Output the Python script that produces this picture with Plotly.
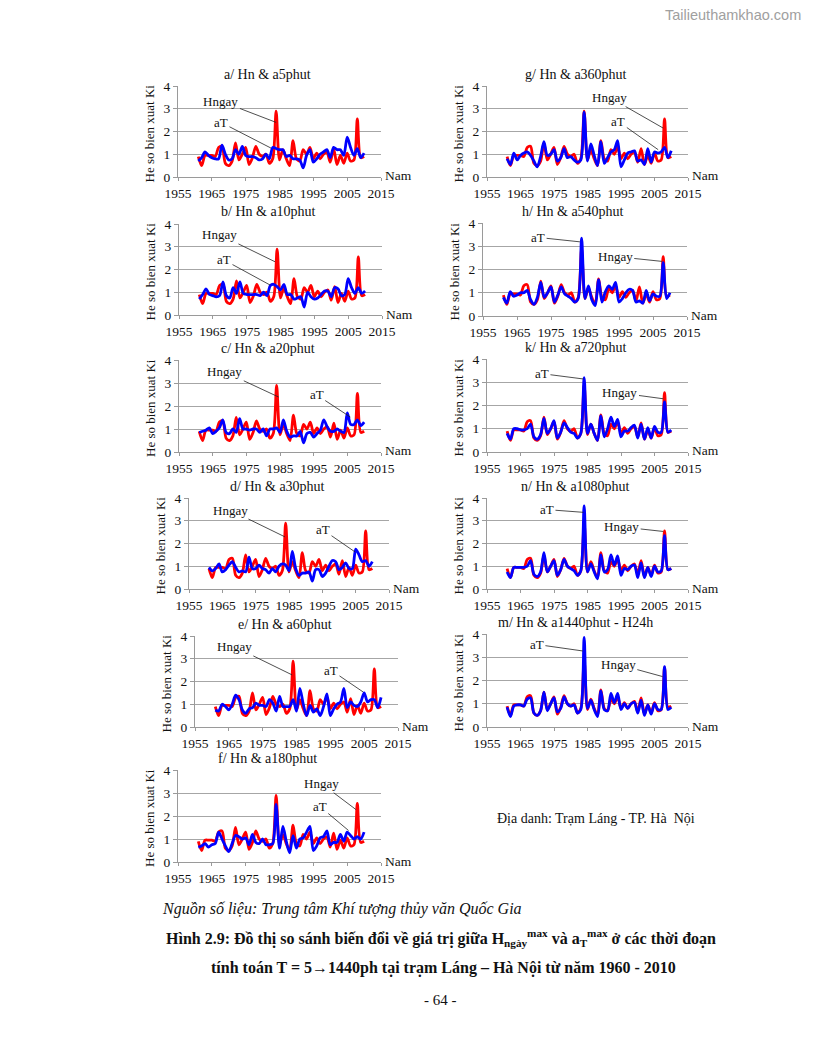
import plotly.graph_objects as go

# ---------------- data ----------------
years = list(range(1961, 2011))

hngay = [0.9, 0.5, 0.95, 0.95, 0.95, 0.9, 1.3, 1.35, 0.6, 0.5,
         0.7, 1.5, 0.75, 1.0, 1.3, 0.55, 0.85, 1.35, 1.0, 0.9,
         1.0, 0.6, 0.8, 2.9, 0.75, 1.2, 0.8, 0.5, 1.6, 0.8,
         0.7, 1.2, 1.0, 1.3, 0.8, 1.05, 0.8, 1.0, 1.1, 0.65,
         1.25, 0.55, 0.95, 0.6, 1.05, 0.7, 0.75, 2.55, 0.85, 0.9]

a5 = [0.7, 0.85, 1.1, 0.95, 0.85, 0.8, 0.8, 1.4, 1.0, 0.75,
      0.8, 1.2, 1.0, 1.35, 0.95, 0.9, 0.9, 0.85, 0.75, 0.8,
      1.0, 0.8, 1.3, 1.25, 1.2, 1.2, 0.9, 0.95, 0.8, 0.8,
      0.75, 0.4, 0.95, 1.2, 0.65, 0.8, 1.0, 1.1, 1.2, 0.85,
      1.3, 1.2, 1.2, 0.95, 1.75, 1.3, 0.95, 1.25, 0.85, 1.05]

a10 = [0.7, 0.9, 1.15, 0.9, 0.85, 0.8, 0.85, 1.45, 0.85, 0.75,
       1.2, 0.95, 1.45, 0.95, 0.9, 0.9, 0.9, 0.9, 0.85, 1.0,
       0.85, 1.3, 1.35, 1.25, 1.1, 1.35, 0.9, 0.9, 0.7, 0.75,
       0.8, 0.35, 1.0, 0.8, 0.7, 0.75, 0.9, 1.05, 1.05, 0.8,
       1.2, 1.15, 0.85, 0.9, 1.6, 1.2, 0.95, 1.2, 0.95, 1.05]

a20 = [0.85, 0.9, 0.95, 1.05, 0.8, 0.9, 1.05, 1.4, 0.85, 0.8,
       1.0, 0.85, 1.45, 1.0, 1.0, 0.95, 1.0, 1.0, 0.85, 1.0,
       0.7, 1.0, 1.0, 1.05, 0.85, 1.4, 0.9, 0.65, 0.7, 0.7,
       0.9, 0.4, 0.8, 0.85, 0.65, 0.8, 0.95, 1.4, 1.1, 0.9,
       0.9, 1.0, 0.9, 0.85, 1.7, 1.2, 1.2, 1.4, 1.15, 1.3]

a30 = [0.95, 0.8, 0.9, 1.1, 0.75, 0.85, 1.05, 1.2, 0.95, 0.75,
       0.8, 0.75, 1.4, 0.9, 0.9, 1.05, 0.9, 0.85, 0.7, 0.9,
       0.75, 1.0, 1.1, 1.05, 0.8, 1.65, 0.9, 0.6, 0.7, 0.7,
       0.75, 0.35, 0.85, 0.85, 0.55, 0.7, 1.0, 1.25, 1.2, 0.85,
       0.95, 1.15, 0.9, 0.9, 1.75, 1.5, 1.2, 1.25, 1.0, 1.2]

a60 = [0.75, 0.7, 1.0, 0.9, 0.75, 1.0, 1.4, 1.2, 0.75, 0.6,
       0.8, 0.85, 1.05, 0.95, 0.95, 0.9, 1.2, 1.05, 0.7, 1.35,
       0.9, 0.9, 0.9, 1.2, 0.7, 1.7, 1.0, 0.5, 0.95, 0.65,
       0.8, 0.5, 0.9, 1.45, 0.5, 0.8, 1.0, 1.1, 1.7, 0.85,
       1.1, 0.95, 0.9, 1.1, 1.5, 1.1, 1.2, 1.2, 0.85, 1.3]

a180 = [0.65, 0.7, 0.8, 0.65, 0.75, 0.8, 1.3, 1.0, 0.7, 0.45,
        0.8, 1.15, 1.1, 1.0, 1.05, 0.75, 1.2, 0.85, 0.8, 1.0,
        0.75, 0.75, 0.8, 2.5, 0.6, 1.55, 0.9, 0.4, 1.15, 0.6,
        1.0, 1.05, 1.3, 1.55, 0.5, 0.7, 1.05, 1.1, 1.35, 0.75,
        0.85, 0.85, 1.2, 0.9, 1.3, 1.15, 1.0, 1.1, 1.0, 1.3]

a360 = [0.8, 0.55, 1.05, 0.75, 0.95, 1.05, 1.1, 0.95, 0.7, 0.45,
        0.9, 1.55, 0.95, 1.0, 1.2, 0.7, 0.85, 1.25, 0.85, 0.9,
        0.75, 0.65, 0.75, 2.85, 0.7, 1.45, 0.95, 0.5, 1.55, 0.6,
        0.85, 1.1, 1.2, 1.6, 0.45, 0.75, 1.05, 1.1, 1.15, 0.7,
        0.75, 0.55, 1.25, 0.65, 1.1, 1.05, 1.1, 1.3, 0.85, 1.15]

a540 = [0.8, 0.55, 1.05, 0.85, 0.9, 1.0, 1.0, 1.1, 0.7, 0.5,
        0.8, 1.45, 0.8, 1.0, 1.25, 0.6, 0.9, 1.25, 0.95, 0.85,
        0.75, 0.6, 0.75, 3.35, 0.75, 1.3, 0.7, 0.45, 1.55, 0.6,
        1.05, 1.3, 1.15, 1.45, 0.6, 0.75, 1.0, 1.15, 1.1, 0.6,
        0.65, 0.55, 1.1, 0.65, 0.95, 0.85, 0.85, 2.3, 0.75, 1.0]

a720 = [0.8, 0.55, 1.0, 1.0, 0.95, 0.95, 1.0, 1.2, 0.65, 0.55,
        0.75, 1.45, 0.8, 1.0, 1.35, 0.6, 0.85, 1.25, 1.05, 0.85,
        0.8, 0.6, 0.8, 3.2, 0.8, 1.2, 0.8, 0.5, 1.55, 0.65,
        1.0, 1.5, 1.1, 1.4, 0.65, 0.9, 0.9, 1.05, 1.15, 0.6,
        1.2, 0.55, 1.05, 0.6, 1.1, 0.85, 0.85, 2.15, 0.85, 0.95]

a1080 = [0.75, 0.5, 0.95, 0.95, 0.95, 0.95, 1.0, 1.25, 0.65, 0.55,
         0.75, 1.6, 0.75, 1.0, 1.25, 0.6, 0.85, 1.3, 1.0, 0.9,
         0.8, 0.6, 0.8, 3.65, 0.75, 1.1, 0.75, 0.45, 1.5, 0.75,
         0.85, 1.5, 1.05, 1.45, 0.6, 0.9, 0.85, 1.0, 1.05, 0.5,
         1.15, 0.5, 0.95, 0.55, 1.0, 0.75, 0.8, 2.35, 0.85, 0.9]

a1440 = [0.85, 0.45, 0.9, 0.95, 0.95, 0.9, 1.2, 1.25, 0.6, 0.5,
         0.7, 1.5, 0.7, 1.0, 1.25, 0.65, 0.8, 1.3, 1.0, 0.9,
         0.95, 0.6, 0.75, 3.85, 0.8, 1.15, 0.75, 0.45, 1.55, 0.75,
         0.7, 1.45, 1.05, 1.45, 0.75, 1.0, 0.8, 1.0, 1.05, 0.6,
         1.15, 0.5, 0.95, 0.55, 1.0, 0.75, 0.75, 2.6, 0.75, 0.85]

x_ticks = [1955, 1965, 1975, 1985, 1995, 2005, 2015]
y_ticks = [0, 1, 2, 3, 4]

# (title, aT series, plot px x-range, plot px y-range (top, bottom),
#  annotations: (label, target x, target y, text x, text y))
panels = [
    ("a/ Hn & a5phut", a5, (178, 381), (86, 177),
     [("Hngay", 1984, 2.4, 1967.7, 3.33), ("aT", 1982.5, 1.27, 1967.7, 2.4)]),
    ("b/ Hn & a10phut", a10, (179, 382), (224, 315),
     [("Hngay", 1983.4, 2.34, 1967.1, 3.52), ("aT", 1981.9, 1.32, 1968.3, 2.42)]),
    ("c/ Hn & a20phut", a20, (179, 381), (360, 452),
     [("Hngay", 1984.6, 2.39, 1968.6, 3.48), ("aT", 2005.9, 1.52, 1995.9, 2.48)]),
    ("d/ Hn & a30phut", a30, (189, 389), (498, 589),
     [("Hngay", 1983.8, 2.29, 1967.3, 3.47), ("aT", 2004.8, 1.63, 1995.2, 2.6)]),
    ("e/ Hn & a60phut", a60, (195, 398), (636, 727),
     [("Hngay", 1983.7, 2.29, 1966.8, 3.52), ("aT", 2004.7, 1.54, 1995.2, 2.5)]),
    ("f/ Hn & a180phut", a180, (178, 381), (770, 862),
     [("Hngay", 2007.6, 2.28, 1997.5, 3.4), ("aT", 2005.4, 1.37, 1996.9, 2.42)]),
    ("g/ Hn & a360phut", a360, (487, 688), (86, 177),
     [("Hngay", 2007.6, 2.15, 1991.7, 3.49), ("aT", 2006.1, 1.2, 1994.2, 2.44)]),
    ("h/ Hn & a540phut", a540, (483, 687), (223, 316),
     [("aT", 1983.5, 3.19, 1971.2, 3.38), ("Hngay", 2007.6, 2.35, 1993.9, 2.56)]),
    ("k/ Hn & a720phut", a720, (487, 688), (359, 452),
     [("aT", 1983.8, 3.14, 1971.4, 3.37), ("Hngay", 2007.6, 2.29, 1994.7, 2.54)]),
    ("n/ Hn & a1080phut", a1080, (487, 688), (498, 589),
     [("aT", 1983.8, 3.37, 1972.9, 3.49), ("Hngay", 2007.6, 2.53, 1995.2, 2.73)]),
    ("m/ Hn & a1440phut - H24h", a1440, (487, 688), (634, 727),
     [("aT", 1983.6, 3.27, 1969.9, 3.55), ("Hngay", 2007.4, 2.17, 1994.2, 2.69)]),
]

W, H = 816, 1056
OFF = 8  # page body margin of the html page
FONT = "Liberation Serif, Times New Roman, serif"


def px(xp):
    return (xp - OFF) / W


def py(yp):
    return 1 - (yp - OFF) / H


fig = go.Figure()
annotations = []
layout_axes = {}

for i, (title, at, (x0, x1), (ytop, ybot), anns) in enumerate(panels):
    n = i + 1
    xa = "x" if n == 1 else f"x{n}"
    ya = "y" if n == 1 else f"y{n}"
    xkey = "xaxis" if n == 1 else f"xaxis{n}"
    ykey = "yaxis" if n == 1 else f"yaxis{n}"

    fig.add_trace(go.Scatter(x=years, y=hngay, mode="lines", xaxis=xa, yaxis=ya,
                             line=dict(color="#ff0000", width=2.8, shape="spline", smoothing=0.8),
                             showlegend=False, hoverinfo="skip"))
    fig.add_trace(go.Scatter(x=years, y=at, mode="lines", xaxis=xa, yaxis=ya,
                             line=dict(color="#0000ff", width=2.8, shape="spline", smoothing=0.8),
                             showlegend=False, hoverinfo="skip"))

    layout_axes[xkey] = dict(domain=[px(x0), px(x1)], range=[1955, 2015], anchor=ya,
                             automargin=False,
                             tickvals=x_ticks, ticktext=[str(v) for v in x_ticks],
                             showgrid=False, zeroline=False, showline=True,
                             linecolor="#9a9a9a", linewidth=1, ticks="outside",
                             ticklen=3, tickcolor="#9a9a9a",
                             ticklabelstandoff=1,
                             tickfont=dict(family=FONT, size=13.5, color="#111"),
                             fixedrange=True)
    layout_axes[ykey] = dict(domain=[py(ybot), py(ytop)], range=[0, 4], anchor=xa,
                             automargin=False,
                             tickvals=y_ticks, showgrid=True, gridcolor="#a6a6a6",
                             gridwidth=1, zeroline=False, showline=True,
                             linecolor="#9a9a9a", linewidth=1, ticks="outside",
                             ticklen=4, tickcolor="#9a9a9a",
                             tickfont=dict(family=FONT, size=13.5, color="#111"),
                             fixedrange=True)

    # panel title
    annotations.append(dict(text=title, x=px((x0 + x1) / 2 - 12), y=py(ytop - 12),
                            xref="paper", yref="paper", showarrow=False,
                            xanchor="center", yanchor="middle",
                            font=dict(family=FONT, size=14, color="#111")))
    # y-axis title
    annotations.append(dict(text="He so bien xuat Ki", x=px(x0 - 29), y=py((ytop + ybot) / 2 + 2),
                            xref="paper", yref="paper", showarrow=False, textangle=-90,
                            xanchor="center", yanchor="middle",
                            font=dict(family=FONT, size=13, color="#111")))
    # "Nam"
    annotations.append(dict(text="Nam", x=px(x1 + 2), y=py(ybot - 1),
                            xref="paper", yref="paper", showarrow=False,
                            xanchor="left", yanchor="middle",
                            font=dict(family=FONT, size=13.5, color="#111")))
    # series labels with leader lines
    for lab, tx, ty, lx, ly in anns:
        annotations.append(dict(text=lab, x=tx, y=ty, ax=lx, ay=ly,
                                xref=xa, yref=ya, axref=xa, ayref=ya,
                                showarrow=True, arrowhead=0, arrowwidth=0.8,
                                arrowcolor="#222", standoff=0, startstandoff=0,
                                font=dict(family=FONT, size=13, color="#111")))

# other page texts
annotations += [
    dict(text="Địa danh: Trạm Láng - TP. Hà  Nội", x=px(596), y=py(818),
         xref="paper", yref="paper", showarrow=False, xanchor="center", yanchor="middle",
         font=dict(family=FONT, size=14, color="#111")),
    dict(text="<i>Nguồn số liệu: Trung tâm Khí tượng thủy văn Quốc Gia</i>", x=px(160), y=py(909),
         xref="paper", yref="paper", showarrow=False, xanchor="left", yanchor="middle",
         font=dict(family=FONT, size=16, color="#111")),
    dict(text="<b>Hình 2.9: Đồ thị so sánh biến đổi về giá trị giữa H<sub>ngày</sub><sup>max</sup> "
              "và a<sub>T</sub><sup>max</sup> ở các thời đoạn</b>", x=px(441), y=py(938),
         xref="paper", yref="paper", showarrow=False, xanchor="center", yanchor="middle",
         font=dict(family=FONT, size=16, color="#111")),
    dict(text="<b>tính toán T = 5→1440ph tại trạm Láng – Hà Nội từ năm 1960 - 2010</b>",
         x=px(443), y=py(968), xref="paper", yref="paper", showarrow=False,
         xanchor="center", yanchor="middle", font=dict(family=FONT, size=16, color="#111")),
    dict(text="- 64 -", x=px(440), y=py(1000), xref="paper", yref="paper", showarrow=False,
         xanchor="center", yanchor="middle", font=dict(family=FONT, size=15, color="#111")),
    dict(text="Tailieuthamkhao.com", x=px(803), y=py(15), xref="paper", yref="paper",
         showarrow=False, xanchor="right", yanchor="middle",
         font=dict(family="Liberation Sans, Arial, sans-serif", size=14.5, color="#a0a0a0")),
]

fig.update_layout(width=W, height=H, margin=dict(l=0, r=0, t=0, b=0),
                  template="none",
                  paper_bgcolor="white", plot_bgcolor="white",
                  annotations=annotations, **layout_axes)

fig.write_html("out.html")
